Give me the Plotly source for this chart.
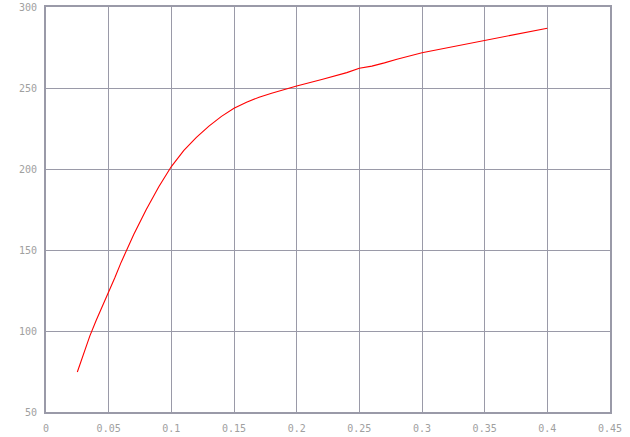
import plotly.graph_objects as go

x_vals = [0.025, 0.03, 0.035, 0.04, 0.045, 0.05, 0.055, 0.06, 0.065, 0.07, 0.08, 0.09,
          0.1, 0.11, 0.12, 0.13, 0.14, 0.15, 0.16, 0.17, 0.18, 0.19, 0.2, 0.22, 0.24,
          0.25, 0.26, 0.27, 0.28, 0.3, 0.32, 0.34, 0.35, 0.36, 0.38, 0.4]
y_vals = [74.7, 86, 97, 106.5, 115, 123.5, 133, 142.5, 151.5, 159.5, 175, 189,
          201.5, 211.5, 219.5, 226.5, 232.5, 237.5, 241.2, 244.3, 246.8, 249.1, 251.2, 255.2, 259.5,
          262.2, 263.5, 265.5, 267.8, 271.8, 274.8, 277.8, 279.4, 280.8, 283.8, 286.9]

x_ticks = [0, 0.05, 0.1, 0.15, 0.2, 0.25, 0.3, 0.35, 0.4, 0.45]
x_tick_labels = ["0", "0.05", "0.1", "0.15", "0.2", "0.25", "0.3", "0.35", "0.4", "0.45"]
y_ticks = [50, 100, 150, 200, 250, 300]

grid_col = "#9a9aa8"
font = dict(family="DejaVu Sans Mono", size=10, color="#a0a0a0")

fig = go.Figure()
fig.add_trace(go.Scatter(x=x_vals, y=y_vals, mode="lines",
                         line=dict(color="#ff0000", width=1.1), showlegend=False))

fig.update_layout(
    width=630, height=437,
    margin=dict(l=46, r=20, t=7, b=25, autoexpand=False),
    paper_bgcolor="white", plot_bgcolor="white",
    xaxis=dict(range=[0, 0.45], tickvals=x_ticks, ticktext=x_tick_labels,
               showgrid=True, gridcolor=grid_col, gridwidth=1,
               showline=True, linecolor=grid_col, linewidth=2, mirror=True,
               ticks="inside", ticklen=3, tickcolor=grid_col,
               zeroline=False, tickfont=font, automargin=False,
               ticklabelstandoff=6),
    yaxis=dict(range=[50, 300], tickvals=y_ticks,
               showgrid=True, gridcolor=grid_col, gridwidth=1,
               showline=True, linecolor=grid_col, linewidth=2, mirror=True,
               ticks="inside", ticklen=3, tickcolor=grid_col,
               zeroline=False, tickfont=font, automargin=False,
               ticklabelstandoff=5),
)

fig.write_html("out.html", config={"displayModeBar": False},
               post_script="document.body.style.margin='0';")
